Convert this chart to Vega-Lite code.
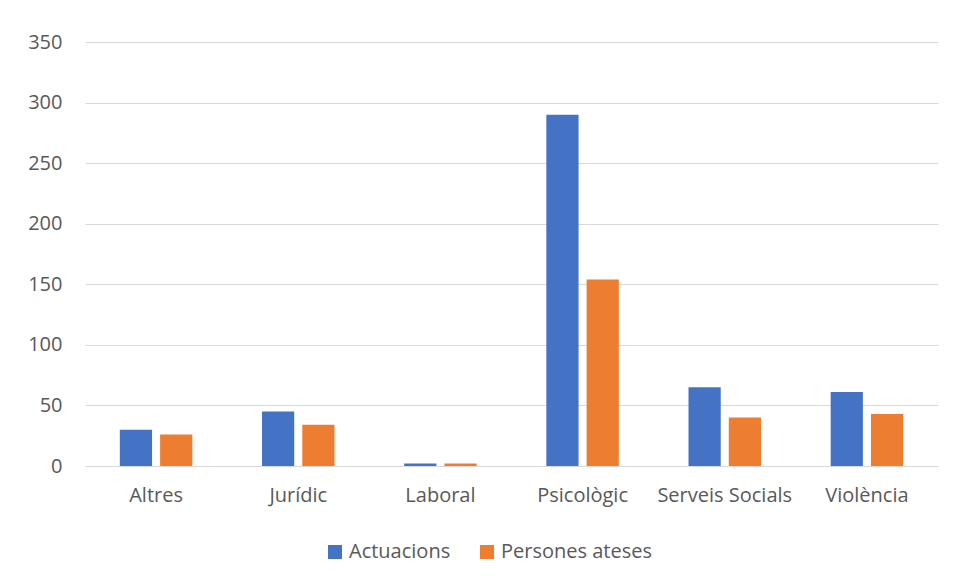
{
  "$schema": "https://vega.github.io/schema/vega-lite/v6.json",
  "autosize": {"type": "none"},
  "width": 853,
  "height": 424,
  "padding": {"left": 85, "top": 42, "right": 19, "bottom": 115},
  "background": "white",
  "data": {"values": [
    {"cat": "Altres", "serie": "Actuacions", "v": 30},
    {"cat": "Altres", "serie": "Persones ateses", "v": 26},
    {"cat": "Jurídic", "serie": "Actuacions", "v": 45},
    {"cat": "Jurídic", "serie": "Persones ateses", "v": 34},
    {"cat": "Laboral", "serie": "Actuacions", "v": 2},
    {"cat": "Laboral", "serie": "Persones ateses", "v": 2},
    {"cat": "Psicològic", "serie": "Actuacions", "v": 290},
    {"cat": "Psicològic", "serie": "Persones ateses", "v": 154},
    {"cat": "Serveis Socials", "serie": "Actuacions", "v": 65},
    {"cat": "Serveis Socials", "serie": "Persones ateses", "v": 40},
    {"cat": "Violència", "serie": "Actuacions", "v": 61},
    {"cat": "Violència", "serie": "Persones ateses", "v": 43}
  ]},
  "mark": {"type": "bar"},
  "encoding": {
    "x": {
      "field": "cat", "type": "nominal", "sort": null,
      "scale": {"paddingInner": 0.49, "paddingOuter": 0.245},
      "axis": {"title": null, "labelAngle": 0, "ticks": false, "domain": true, "domainColor": "#d9d9d9", "domainWidth": 1, "labelPadding": 19}
    },
    "xOffset": {"field": "serie", "type": "nominal", "scale": {"paddingInner": 0.2, "paddingOuter": 0}},
    "y": {
      "field": "v", "type": "quantitative",
      "scale": {"domain": [0, 350]},
      "axis": {"title": null, "values": [0, 50, 100, 150, 200, 250, 300, 350], "ticks": false, "domain": false, "labelPadding": 23, "gridColor": "#d9d9d9", "gridWidth": 1}
    },
    "color": {
      "field": "serie", "type": "nominal",
      "scale": {"domain": ["Actuacions", "Persones ateses"], "range": ["#4472C4", "#ED7D31"]},
      "legend": {"title": null, "orient": "none", "legendX": 240, "legendY": 500, "direction": "horizontal", "symbolType": "square", "symbolSize": 196, "symbolStrokeWidth": 0, "labelOffset": 4, "columnPadding": 26}
    }
  },
  "config": {
    "view": {"stroke": null},
    "font": "Open Sans",
    "axis": {"labelFont": "Open Sans", "labelFontSize": 20, "labelColor": "#595959"},
    "legend": {"labelFont": "Open Sans", "labelFontSize": 20, "labelColor": "#595959"}
  }
}
